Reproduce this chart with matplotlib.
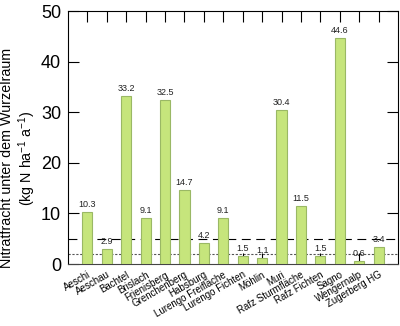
import numpy as np
import matplotlib
matplotlib.use('Agg')
import matplotlib.pyplot as plt

plt.rcParams['font.family'] = ['Liberation Sans', 'DejaVu Sans']
plt.rcParams['mathtext.default'] = 'regular'

# Standorte und Nitratfracht (kg N ha-1 a-1)
sites = ['Aeschi', 'Aeschau', 'Bachtel', 'Brislach', 'Frienisberg', 'Grenchenberg',
         'Habsburg', 'Lurengo Freifläche', 'Lurengo Fichten', 'Möhlin', 'Muri',
         'Rafz Sturmfläche', 'Rafz Fichten', 'Sagno', 'Wengernalp', 'Zugerberg HG']
values = [10.3, 2.9, 33.2, 9.1, 32.5, 14.7, 4.2, 9.1, 1.5, 1.1, 30.4,
          11.5, 1.5, 44.6, 0.6, 3.4]
ref_dashed = 5.0
ref_dotted = 2.0

fig = plt.figure(figsize=(4.0, 3.26), dpi=100)
ax = fig.add_axes([0.17, 0.19, 0.825, 0.776])

x = np.arange(len(sites))
ax.axhline(ref_dashed, color='black', linestyle=(0, (8, 5)), linewidth=0.8, zorder=1)
ax.axhline(ref_dotted, color='#555555', linestyle=(0, (2, 1.5)), linewidth=0.8, zorder=1)
ax.bar(x, values, width=0.52, color='#c6e57c', edgecolor='#9ab865', linewidth=0.8, zorder=3)

for xi, v in zip(x, values):
    ax.text(xi, v + 0.6, '%.1f' % v, ha='center', va='bottom', fontsize=6.5, color='#222222')

ax.set_xlim(-1, 16)
ax.set_ylim(0, 50)
ax.set_yticks([0, 10, 20, 30, 40, 50])
ax.tick_params(axis='y', direction='in', length=8, labelsize=13, right=True, pad=5)
ax.set_xticks(x)
ax.set_xticklabels(sites, rotation=30, ha='right', rotation_mode='anchor', fontsize=7)
ax.tick_params(axis='x', direction='in', length=8, top=True, pad=4)
for s in ax.spines.values():
    s.set_linewidth(0.8)
ax.spines['bottom'].set_color('#444444')

ax.set_ylabel('Nitratfracht unter dem Wurzelraum\n(kg N ha$^{-1}$ a$^{-1}$)', fontsize=10.3)
ax.yaxis.set_label_coords(-0.09, 0.42)

fig.savefig('out.png', dpi=100)
